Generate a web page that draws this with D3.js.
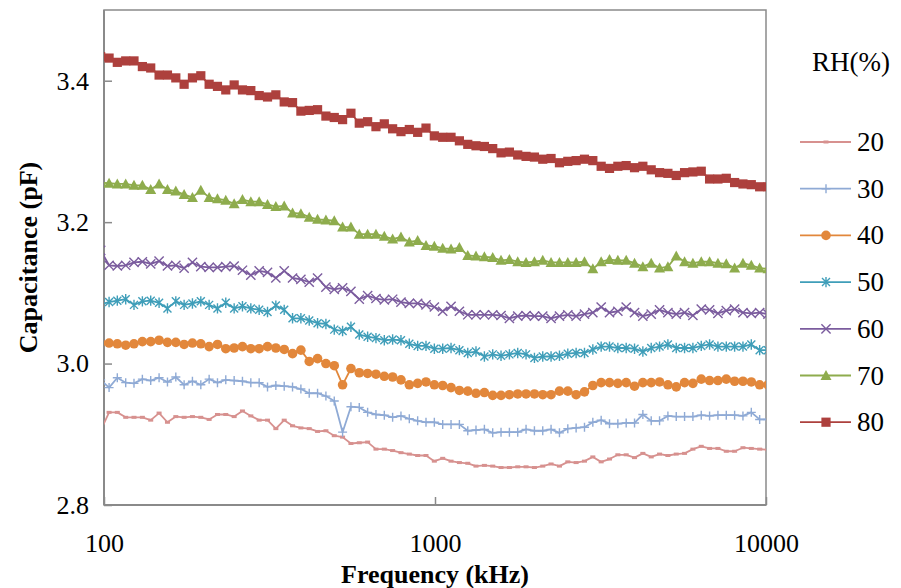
<!DOCTYPE html>
<html>
<head>
<meta charset="utf-8">
<script src="https://cdn.jsdelivr.net/npm/d3@7"></script>
<style>
  html, body { margin: 0; padding: 0; background: #fff; }
  svg { display: block; }
  text { font-family: "Liberation Serif", "Times New Roman", serif; fill: #000; }
</style>
</head>
<body>
<div id="chart"></div>
<script>
'use strict';

// sweep frequencies (kHz)
var freqKHz = [
    97.7, 103.6, 109.7, 116.3, 123.2, 130.6, 138.4, 146.7, 155.5, 164.8,
    174.6, 185.0, 196.1, 207.8, 220.2, 233.3, 247.3, 262.0, 277.7, 294.3,
    311.9, 330.5, 350.3, 371.2, 393.4, 416.9, 441.8, 468.2, 496.2, 525.8,
    557.2, 590.5, 625.8, 663.2, 702.8, 744.7, 789.2, 836.4, 886.4, 939.3,
    995.4, 1055, 1118, 1185, 1256, 1330, 1410, 1494, 1583, 1678,
    1778, 1884, 1997, 2116, 2242, 2377, 2519, 2669, 2829, 2998,
    3177, 3367, 3568, 3781, 4007, 4246, 4500, 4769, 5054, 5356,
    5675, 6014, 6374, 6754, 7158, 7586, 8039, 8519, 9028, 9568,
    10139
];

var rh20 = [
    2.905, 2.931, 2.931, 2.924, 2.924, 2.924, 2.920, 2.930, 2.917, 2.925,
    2.924, 2.925, 2.924, 2.921, 2.928, 2.928, 2.925, 2.933, 2.926, 2.920,
    2.920, 2.908, 2.920, 2.912, 2.909, 2.908, 2.904, 2.905, 2.898, 2.896,
    2.887, 2.888, 2.889, 2.879, 2.879, 2.877, 2.874, 2.872, 2.870, 2.870,
    2.862, 2.866, 2.862, 2.860, 2.859, 2.855, 2.856, 2.855, 2.853, 2.853,
    2.854, 2.854, 2.853, 2.855, 2.858, 2.855, 2.861, 2.860, 2.862, 2.868,
    2.861, 2.865, 2.871, 2.871, 2.867, 2.873, 2.868, 2.872, 2.870, 2.872,
    2.873, 2.879, 2.883, 2.880, 2.880, 2.876, 2.876, 2.881, 2.880, 2.879,
    2.878
];

var rh30 = [
    2.977, 2.966, 2.980, 2.973, 2.972, 2.978, 2.976, 2.980, 2.974, 2.981,
    2.970, 2.975, 2.970, 2.978, 2.973, 2.977, 2.976, 2.975, 2.973, 2.973,
    2.967, 2.969, 2.968, 2.967, 2.964, 2.958, 2.958, 2.954, 2.947, 2.903,
    2.939, 2.938, 2.931, 2.928, 2.927, 2.924, 2.926, 2.922, 2.919, 2.917,
    2.917, 2.914, 2.914, 2.914, 2.905, 2.906, 2.907, 2.902, 2.903, 2.903,
    2.903, 2.907, 2.905, 2.905, 2.907, 2.902, 2.908, 2.909, 2.910, 2.917,
    2.920, 2.915, 2.915, 2.916, 2.916, 2.928, 2.919, 2.919, 2.926, 2.925,
    2.925, 2.925, 2.927, 2.926, 2.927, 2.927, 2.927, 2.926, 2.931, 2.921,
    2.921
];

var rh40 = [
    3.029, 3.029, 3.028, 3.026, 3.028, 3.031, 3.031, 3.033, 3.030, 3.030,
    3.027, 3.029, 3.028, 3.024, 3.027, 3.021, 3.022, 3.024, 3.021, 3.021,
    3.024, 3.022, 3.020, 3.014, 3.019, 3.003, 3.007, 3.000, 2.997, 2.970,
    2.993, 2.987, 2.986, 2.985, 2.982, 2.981, 2.977, 2.970, 2.972, 2.974,
    2.970, 2.969, 2.966, 2.962, 2.961, 2.958, 2.959, 2.955, 2.955, 2.956,
    2.957, 2.957, 2.957, 2.956, 2.956, 2.961, 2.961, 2.956, 2.960, 2.969,
    2.973, 2.973, 2.972, 2.973, 2.968, 2.973, 2.973, 2.974, 2.970, 2.967,
    2.973, 2.972, 2.978, 2.976, 2.976, 2.978, 2.975, 2.975, 2.974, 2.970,
    2.970
];

var rh50 = [
    3.084, 3.087, 3.089, 3.091, 3.083, 3.088, 3.089, 3.086, 3.078, 3.088,
    3.083, 3.085, 3.088, 3.083, 3.078, 3.086, 3.078, 3.081, 3.078, 3.076,
    3.073, 3.082, 3.076, 3.064, 3.064, 3.061, 3.057, 3.056, 3.048, 3.046,
    3.052, 3.041, 3.038, 3.036, 3.033, 3.034, 3.033, 3.028, 3.025, 3.025,
    3.021, 3.021, 3.022, 3.019, 3.015, 3.017, 3.010, 3.013, 3.011, 3.013,
    3.015, 3.013, 3.008, 3.010, 3.010, 3.011, 3.014, 3.015, 3.015, 3.020,
    3.024, 3.024, 3.022, 3.022, 3.021, 3.017, 3.022, 3.024, 3.027, 3.022,
    3.022, 3.022, 3.025, 3.027, 3.024, 3.024, 3.024, 3.024, 3.027, 3.019,
    3.019
];

var rh60 = [
    3.160, 3.139, 3.138, 3.139, 3.143, 3.144, 3.141, 3.145, 3.138, 3.139,
    3.135, 3.143, 3.137, 3.136, 3.136, 3.137, 3.138, 3.132, 3.125, 3.131,
    3.129, 3.121, 3.131, 3.121, 3.119, 3.115, 3.121, 3.108, 3.105, 3.107,
    3.102, 3.091, 3.096, 3.092, 3.090, 3.091, 3.087, 3.085, 3.085, 3.083,
    3.080, 3.074, 3.081, 3.074, 3.069, 3.069, 3.069, 3.069, 3.068, 3.064,
    3.067, 3.068, 3.067, 3.067, 3.064, 3.067, 3.069, 3.067, 3.070, 3.072,
    3.080, 3.072, 3.074, 3.080, 3.072, 3.067, 3.070, 3.076, 3.072, 3.070,
    3.072, 3.068, 3.077, 3.076, 3.071, 3.075, 3.077, 3.072, 3.071, 3.072,
    3.070
];

var rh70 = [
    3.256, 3.255, 3.254, 3.254, 3.252, 3.252, 3.246, 3.254, 3.246, 3.244,
    3.239, 3.235, 3.245, 3.235, 3.233, 3.231, 3.226, 3.232, 3.229, 3.229,
    3.225, 3.222, 3.223, 3.213, 3.212, 3.207, 3.204, 3.203, 3.202, 3.193,
    3.193, 3.183, 3.183, 3.183, 3.180, 3.176, 3.179, 3.172, 3.174, 3.167,
    3.166, 3.163, 3.162, 3.164, 3.153, 3.152, 3.151, 3.150, 3.146, 3.147,
    3.144, 3.143, 3.144, 3.146, 3.143, 3.143, 3.143, 3.143, 3.144, 3.134,
    3.144, 3.147, 3.146, 3.146, 3.142, 3.137, 3.142, 3.135, 3.137, 3.152,
    3.144, 3.142, 3.144, 3.144, 3.142, 3.141, 3.135, 3.142, 3.139, 3.135,
    3.134
];

var rh80 = [
    3.434, 3.432, 3.426, 3.428, 3.428, 3.420, 3.418, 3.408, 3.408, 3.404,
    3.395, 3.404, 3.407, 3.395, 3.392, 3.387, 3.394, 3.387, 3.386, 3.379,
    3.377, 3.380, 3.370, 3.369, 3.357, 3.358, 3.359, 3.350, 3.348, 3.345,
    3.354, 3.340, 3.342, 3.335, 3.339, 3.332, 3.328, 3.331, 3.327, 3.333,
    3.322, 3.320, 3.320, 3.315, 3.310, 3.308, 3.307, 3.304, 3.298, 3.299,
    3.295, 3.293, 3.292, 3.289, 3.290, 3.284, 3.286, 3.287, 3.289, 3.287,
    3.279, 3.276, 3.279, 3.280, 3.277, 3.279, 3.274, 3.270, 3.269, 3.266,
    3.270, 3.271, 3.272, 3.261, 3.261, 3.262, 3.256, 3.254, 3.253, 3.250,
    3.250
];

var rhLabels = ['20', '30', '40', '50', '60', '70', '80'];
var xTickValues = [100, 1000, 10000];
var yTickValues = [2.8, 3.0, 3.2, 3.4];

var series = [
    { label: rhLabels[0], values: rh20, color: '#D7918F', marker: 'dash' },
    { label: rhLabels[1], values: rh30, color: '#8FAAD5', marker: 'plus' },
    { label: rhLabels[2], values: rh40, color: '#E2873B', marker: 'circle' },
    { label: rhLabels[3], values: rh50, color: '#3F9EB9', marker: 'asterisk' },
    { label: rhLabels[4], values: rh60, color: '#7B5C9E', marker: 'x' },
    { label: rhLabels[5], values: rh70, color: '#8EAC4D', marker: 'triangle' },
    { label: rhLabels[6], values: rh80, color: '#AD403D', marker: 'square' }
];

var width = 901;
var height = 588;
var plot = { left: 104, top: 10, right: 766, bottom: 505 };
var axisColor = '#8a8a8a';

var svg = d3.select('#chart').append('svg')
    .attr('width', width)
    .attr('height', height);

var x = d3.scaleLog().domain([100, 10000]).range([plot.left, plot.right]);
var y = d3.scaleLinear().domain([2.8, 3.5]).range([plot.bottom, plot.top]);

svg.append('clipPath').attr('id', 'plot-clip')
    .append('rect')
    .attr('x', plot.left)
    .attr('y', plot.top)
    .attr('width', plot.right - plot.left)
    .attr('height', plot.bottom - plot.top);

function drawMarker(g, type, color) {
    if (type === 'dash') {
        g.append('rect').attr('x', -2.5).attr('y', -1.5).attr('width', 5).attr('height', 3).attr('fill', color);
    } else if (type === 'plus') {
        g.append('path').attr('d', 'M-4.5,0H4.5M0,-4.5V4.5')
            .attr('stroke', color).attr('stroke-width', 1.4).attr('fill', 'none');
    } else if (type === 'circle') {
        g.append('circle').attr('r', 4.8).attr('fill', color);
    } else if (type === 'asterisk') {
        g.append('path').attr('d', 'M-4,-4L4,4M-4,4L4,-4M0,-5.2V5.2')
            .attr('stroke', color).attr('stroke-width', 1.4).attr('fill', 'none');
    } else if (type === 'x') {
        g.append('path').attr('d', 'M-4.6,-4.6L4.6,4.6M-4.6,4.6L4.6,-4.6')
            .attr('stroke', color).attr('stroke-width', 1.4).attr('fill', 'none');
    } else if (type === 'triangle') {
        g.append('path').attr('d', 'M0,-5.5L5.5,4.5H-5.5Z').attr('fill', color);
    } else if (type === 'square') {
        g.append('rect').attr('x', -4.6).attr('y', -4.6).attr('width', 9.2).attr('height', 9.2).attr('fill', color);
    }
}

// axes: ticks point into the plot
var yAxis = d3.axisLeft(y)
    .tickValues(yTickValues)
    .tickFormat(d3.format('.1f'))
    .tickSize(-8)
    .tickPadding(15);

var xAxis = d3.axisBottom(x)
    .tickValues(xTickValues)
    .tickFormat(d3.format('d'))
    .tickSize(-8)
    .tickPadding(29);

var gy = svg.append('g')
    .attr('transform', 'translate(' + plot.left + ',0)')
    .call(yAxis);

var gx = svg.append('g')
    .attr('transform', 'translate(0,' + plot.bottom + ')')
    .call(xAxis);

[gx, gy].forEach(function (g) {
    g.select('.domain').remove();
    g.selectAll('.tick line').attr('stroke', axisColor).attr('stroke-width', 1.5);
    g.selectAll('.tick text')
        .attr('font-family', '"Liberation Serif", "Times New Roman", serif')
        .attr('font-size', 26)
        .attr('fill', '#000');
});

// frame
svg.append('rect')
    .attr('x', plot.left)
    .attr('y', plot.top)
    .attr('width', plot.right - plot.left)
    .attr('height', plot.bottom - plot.top)
    .attr('fill', 'none')
    .attr('stroke', axisColor)
    .attr('stroke-width', 1.5);

svg.append('line')
    .attr('x1', plot.left).attr('x2', plot.left)
    .attr('y1', plot.top).attr('y2', plot.bottom)
    .attr('stroke', axisColor).attr('stroke-width', 2);

svg.append('line')
    .attr('x1', plot.left).attr('x2', plot.right)
    .attr('y1', plot.bottom).attr('y2', plot.bottom)
    .attr('stroke', axisColor).attr('stroke-width', 2);

// series
var line = d3.line()
    .x(function (d, i) { return x(freqKHz[i]); })
    .y(function (d) { return y(d); });

var seriesLayer = svg.append('g').attr('clip-path', 'url(#plot-clip)');

series.forEach(function (s) {
    var g = seriesLayer.append('g');

    g.append('path')
        .datum(s.values)
        .attr('d', line)
        .attr('fill', 'none')
        .attr('stroke', s.color)
        .attr('stroke-width', 1.8)
        .attr('stroke-linejoin', 'round');

    g.selectAll('g.pt')
        .data(s.values)
        .join('g')
        .attr('class', 'pt')
        .attr('transform', function (d, i) {
            return 'translate(' + x(freqKHz[i]) + ',' + y(d) + ')';
        })
        .each(function () {
            drawMarker(d3.select(this), s.marker, s.color);
        });
});

// axis titles
svg.append('text')
    .attr('x', (plot.left + plot.right) / 2)
    .attr('y', 583)
    .attr('text-anchor', 'middle')
    .attr('font-size', 26)
    .attr('font-weight', 'bold')
    .text('Frequency (kHz)');

svg.append('text')
    .attr('transform', 'translate(37,' + ((plot.top + plot.bottom) / 2) + ') rotate(-90)')
    .attr('text-anchor', 'middle')
    .attr('font-size', 26)
    .attr('font-weight', 'bold')
    .text('Capacitance (pF)');

// legend
var legend = svg.append('g');

legend.append('text')
    .attr('x', 812)
    .attr('y', 71)
    .attr('font-size', 27)
    .text('RH(%)');

series.forEach(function (s, i) {
    var rowY = 142 + i * 46.7;
    var item = legend.append('g').attr('transform', 'translate(0,' + rowY + ')');

    item.append('line')
        .attr('x1', 800).attr('x2', 851)
        .attr('y1', 0).attr('y2', 0)
        .attr('stroke', s.color)
        .attr('stroke-width', 1.8);

    drawMarker(item.append('g').attr('transform', 'translate(826,0)'), s.marker, s.color);

    item.append('text')
        .attr('x', 857)
        .attr('y', 9)
        .attr('font-size', 27)
        .text(s.label);
});
</script>
</body>
</html>
